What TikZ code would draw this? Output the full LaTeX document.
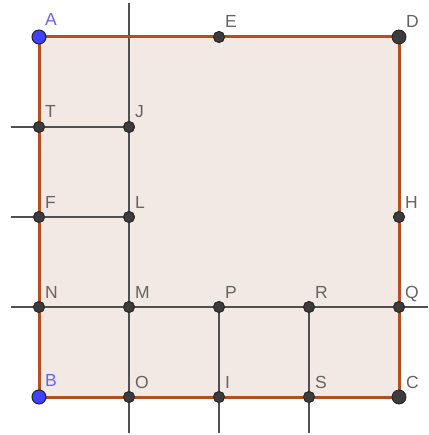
\documentclass[tikz,border=0pt]{standalone}
\usepackage{fontspec}
\setmainfont{Liberation Sans}
\begin{document}
\begin{tikzpicture}[x=1pt,y=-1pt,
  edge/.style={draw=edgecol,line width=3pt},
  gline/.style={draw=linecol,line width=2.6pt},
  pt/.style={circle,fill=ptcol,draw=ptdark,line width=0.8pt,minimum size=11pt,inner sep=0pt},
  bigpt/.style={pt,minimum size=14pt},
  bluept/.style={circle,fill=bluecol,draw=ptdark,line width=1pt,minimum size=14pt,inner sep=0pt},
  lab/.style={anchor=base west,inner sep=0pt,text=labcol,font=\fontsize{17.5}{17.5}\selectfont},
  blab/.style={lab,text=bluelab}]
\definecolor{edgecol}{RGB}{180,78,30}
\definecolor{fillcol}{RGB}{243,233,228}
\definecolor{linecol}{RGB}{80,80,80}
\definecolor{ptcol}{RGB}{60,60,60}
\definecolor{ptdark}{RGB}{35,35,35}
\definecolor{bluecol}{RGB}{64,64,255}
\definecolor{bluelab}{RGB}{100,100,255}
\definecolor{labcol}{RGB}{100,100,100}
\useasboundingbox (0,0) rectangle (428,435);
% coordinates
\coordinate (cA) at (39,37);
\coordinate (cD) at (399,37);
\coordinate (cC) at (399,397);
\coordinate (cB) at (39,397);
% fill
\fill[fillcol] (cA) rectangle (cC);
% free ends
\coordinate (vtop) at (129,3);
\coordinate (vbot) at (129,433);
\coordinate (tl) at (11,127);
\coordinate (fl) at (11,217);
\coordinate (nl) at (11,307);
\coordinate (qr) at (428,307);
\coordinate (pb) at (219,433);
\coordinate (rb) at (309,433);
% points
\path
  (219,37) node[pt] (E) {}
  (399,217) node[pt] (H) {}
  (39,127) node[pt] (T) {}
  (129,127) node[pt] (J) {}
  (39,217) node[pt] (F) {}
  (129,217) node[pt] (L) {}
  (39,307) node[pt] (N) {}
  (129,307) node[pt] (M) {}
  (219,307) node[pt] (P) {}
  (309,307) node[pt] (R) {}
  (399,307) node[pt] (Q) {}
  (129,397) node[pt] (O) {}
  (219,397) node[pt] (I) {}
  (309,397) node[pt] (S) {};
% gray lines
\draw[gline] (vtop) -- (vbot);
\draw[gline] (tl) -- (J.center);
\draw[gline] (fl) -- (L.center);
\draw[gline] (nl) -- (qr);
\draw[gline] (P.center) -- (pb);
\draw[gline] (R.center) -- (rb);
% square edges
\draw[edge] (cA) -- (cD) -- (cC) -- (cB) -- cycle;
% redraw points on top
\foreach \n/\x/\y in {E/219/37,H/399/217,T/39/127,J/129/127,F/39/217,L/129/217,N/39/307,M/129/307,P/219/307,R/309/307,Q/399/307,O/129/397,I/219/397,S/309/397}{
  \node[pt] at (\x,\y) {};
  \node[lab] at (\x+6,\y-9) {\n};
}
\node[bigpt] (D) at (cD) {};
\node[bigpt] (C) at (cC) {};
\node[bluept] (A) at (cA) {};
\node[bluept] (B) at (cB) {};
\node[lab] at (406,28) {D};
\node[lab] at (406,388) {C};
\node[blab] at (45,26) {A};
\node[blab] at (45,386) {B};
\end{tikzpicture}
\end{document}
